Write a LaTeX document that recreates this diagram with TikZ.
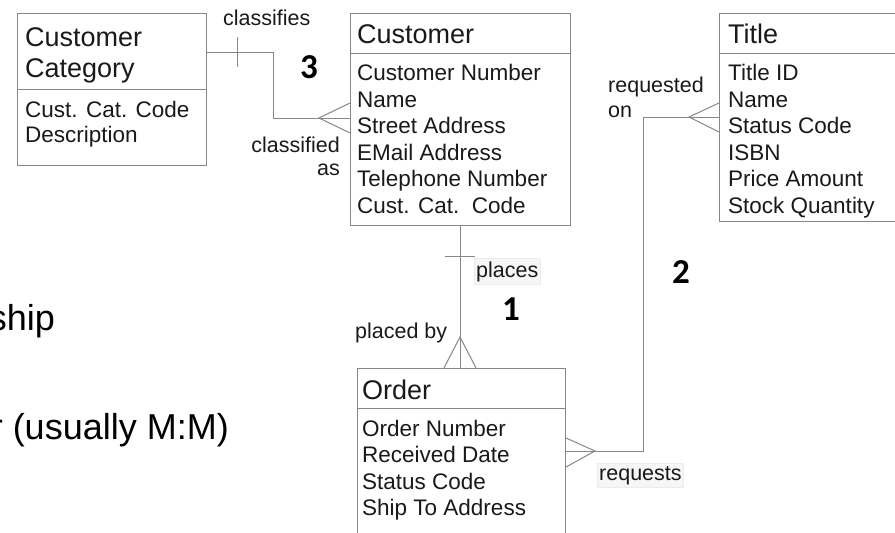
\documentclass[tikz,border=0pt]{standalone}
\usepackage{fontspec}
\setmainfont{Liberation Sans}
\newfontfamily\numfont{Carlito}
\definecolor{ln}{RGB}{135,135,135}
\definecolor{tx}{RGB}{25,25,25}
\definecolor{lblbg}{RGB}{246,246,246}
\definecolor{lblbd}{RGB}{236,236,236}
\begin{document}
\begin{tikzpicture}[x=1pt,y=-1pt,
  box/.style={draw=ln, line width=1pt, inner sep=0pt, anchor=north west},
  conn/.style={draw=ln, line width=1pt},
  ttl/.style={anchor=base west, inner sep=0pt, text=tx, font=\fontsize{27}{32}\selectfont},
  attr/.style={anchor=base west, inner sep=0pt, text=tx, font=\fontsize{22.5}{27}\selectfont},
  lbl/.style={anchor=base west, inner sep=0pt, text=tx, font=\fontsize{21.5}{26}\selectfont},
  lblr/.style={lbl, anchor=base east},
  lblbox/.style={lbl, fill=lblbg, draw=lblbd, inner xsep=2pt, inner ysep=3pt},
  num/.style={anchor=base west, inner sep=0pt, text=black, font=\numfont\bfseries\fontsize{35}{42}\selectfont},
  big/.style={anchor=base east, inner sep=0pt, text=black, font=\fontsize{36}{43}\selectfont}]
\useasboundingbox (0,0) rectangle (895,533);
\clip (0,0) rectangle (895,533);

% boxes
\node[box, minimum width=189pt, minimum height=152pt] (cat) at (17,13) {};
\node[box, minimum width=220pt, minimum height=212pt] (cust) at (350,13) {};
\node[box, minimum width=200pt, minimum height=208pt] (titl) at (719,13) {};
\node[box, minimum width=208pt, minimum height=200pt] (ord) at (357,368) {};

% dividers
\coordinate (dcat) at (0,89);
\coordinate (dcust) at (0,53);
\coordinate (dtitl) at (0,53);
\coordinate (dord) at (0,408);
\draw[conn] (cat.west |- dcat) -- (cat.east |- dcat);
\draw[conn] (cust.west |- dcust) -- (cust.east |- dcust);
\draw[conn] (titl.west |- dtitl) -- (titl.east |- dtitl);
\draw[conn] (ord.west |- dord) -- (ord.east |- dord);

% Customer Category
\node[ttl] (catT1) at (25,46) {Customer};
\node[ttl] (catT2) at (25,77) {Category};
\node[attr] (catA1) at (25,117) {Cust. Cat. Code};
\node[attr] (catA2) at (25,142) {Description};

% Customer
\node[ttl] (custT) at (357,43) {Customer};
\node[attr] (custA1) at (357,80) {Customer Number};
\node[attr] (custA2) at (357,107) {Name};
\node[attr] (custA3) at (357,133) {Street Address};
\node[attr] (custA4) at (357,160) {EMail Address};
\node[attr] (custA5) at (357,186) {Telephone Number};
\node[attr] (custA6) at (357,213) {Cust. Cat.\ \ Code};

% Title
\node[ttl] (titlT) at (728,43) {Title};
\node[attr] (titlA1) at (728,80) {Title ID};
\node[attr] (titlA2) at (728,107) {Name};
\node[attr] (titlA3) at (728,133) {Status Code};
\node[attr] (titlA4) at (728,160) {ISBN};
\node[attr] (titlA5) at (728,186) {Price Amount};
\node[attr] (titlA6) at (728,213) {Stock Quantity};

% Order
\node[ttl] (ordT) at (362,399) {Order};
\node[attr] (ordA1) at (362,436) {Order Number};
\node[attr] (ordA2) at (362,462) {Received Date};
\node[attr] (ordA3) at (362,489) {Status Code};
\node[attr] (ordA4) at (362,515) {Ship To Address};

% connector 3: Customer Category -- Customer
\coordinate (c3a) at (273,52);
\coordinate (c3b) at (273,118);
\coordinate (c3tip) at (319,118);
\coordinate (c3u) at (0,103);
\coordinate (c3l) at (0,133);
\coordinate (t3a) at (237,37);
\coordinate (t3b) at (237,67);
\draw[conn] (cat.east |- c3a) -- (c3a) -- (c3b) -- (cust.west |- c3b);
\draw[conn] (cust.west |- c3u) -- (c3tip) -- (cust.west |- c3l);
\draw[conn] (t3a) -- (t3b);

% connector 1: Customer -- Order
\coordinate (t1a) at (445,256);
\coordinate (t1b) at (475,256);
\coordinate (c1tip) at (460,337);
\coordinate (c1l) at (444,0);
\coordinate (c1r) at (476,0);
\draw[conn] (cust.south) -- (cust.south |- ord.north);
\draw[conn] (t1a) -- (t1b);
\draw[conn] (ord.north -| c1l) -- (c1tip) -- (ord.north -| c1r);

% connector 2: Title -- Order
\coordinate (r1) at (643,117);
\coordinate (r2) at (643,451);
\coordinate (c2tip) at (689,117);
\coordinate (c2u) at (0,103);
\coordinate (c2l) at (0,132);
\coordinate (o2tip) at (595,451);
\coordinate (o2u) at (0,438);
\coordinate (o2l) at (0,467);
\draw[conn] (titl.west |- r1) -- (r1) -- (r2) -- (ord.east |- r2);
\draw[conn] (titl.west |- c2u) -- (c2tip) -- (titl.west |- c2l);
\draw[conn] (ord.east |- o2u) -- (o2tip) -- (ord.east |- o2l);

% labels
\node[lbl] (lclassifies) at (223,25) {classifies};
\node[lblr] (lclassified) at (340,152) {classified};
\node[lblr] (las) at (340,175) {as};
\node[lbl] (lrequested) at (608,92) {requested};
\node[lbl] (lon) at (608,117) {on};
\node[lblbox] (lplaces) at (474,277) {places};
\node[lbl] (lplacedby) at (355,338) {placed by};
\node[lblbox] (lrequests) at (597,480) {requests};

% numbers
\node[num] (n3) at (300,78) {3};
\node[num] (n1) at (502,320) {1};
\node[num] (n2) at (672,283) {2};

% cut-off slide text
\node[big] (bship) at (55,330) {ship};
\node[big] (bmm) at (229,439) {r (usually M:M)};
\end{tikzpicture}
\end{document}
